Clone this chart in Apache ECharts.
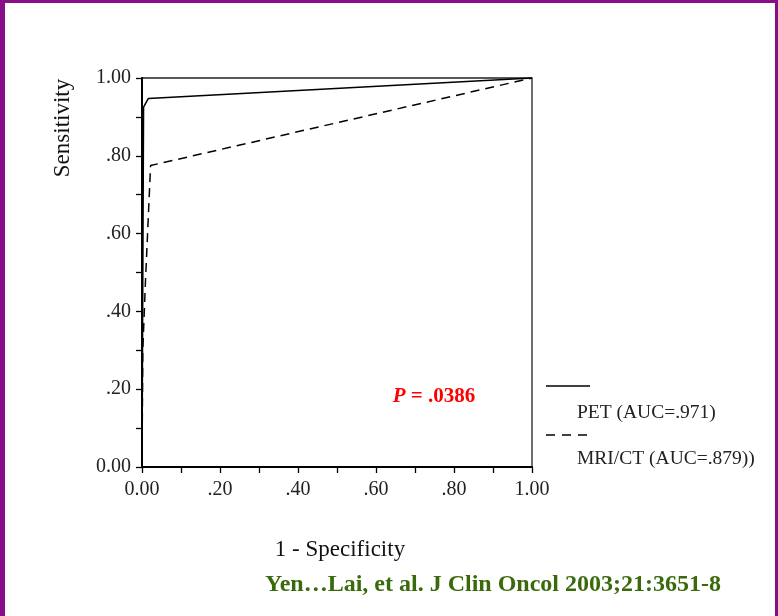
<!DOCTYPE html>
<html>
<head>
<meta charset="utf-8">
<script src="https://cdn.jsdelivr.net/npm/echarts@6/dist/echarts.min.js"></script>
<style>
  html, body { margin: 0; padding: 0; background: #fff; }
  #wrap { position: relative; width: 778px; height: 616px; }
  #chart { position: absolute; left: 0; top: 0; width: 778px; height: 616px; }
  #frame { position: absolute; left: 0; top: 0; width: 778px; height: 616px; box-sizing: border-box;
           border-style: solid; border-color: #880e88; border-width: 3px 3px 0 5px; pointer-events: none; }
</style>
</head>
<body>
<div id="wrap">
  <div id="chart"></div>
  <div id="frame"></div>
</div>
<script>
// ROC curves, x = 1 - specificity, y = sensitivity
var petX = [0, 0.004, 0.016, 1];
var petY = [0, 0.925, 0.947, 1];
var mriX = [0, 0.002, 0.009, 0.022, 1];
var mriY = [0, 0.30, 0.48, 0.775, 1];

var xTicks = ['0.00', '.20', '.40', '.60', '.80', '1.00'];
var yTicks = ['0.00', '.20', '.40', '.60', '.80', '1.00'];

var seriesNames = ['PET (AUC=.971)', 'MRI/CT (AUC=.879))'];
var pValue = '.0386';
var citation = 'Yen\u2026Lai, et al. J Clin Oncol 2003;21:3651-8';

function pairs(xs, ys) {
  return xs.map(function (x, i) { return [x, ys[i]]; });
}
function tickLabel(list) {
  return function (v) { return list[Math.round(v * 5)]; };
}

var serif = '"Liberation Serif", "Times New Roman", serif';

var chartDom = document.getElementById('chart');
var myChart = echarts.init(chartDom);
var option;

option = {
  backgroundColor: '#fff',
  animation: false,
  grid: {
    left: 142, right: 246, top: 78, bottom: 149,
    show: true, borderColor: '#222', borderWidth: 1.3
  },
  xAxis: {
    type: 'value', min: 0, max: 1, interval: 0.2,
    axisLine: { show: true, onZero: false, lineStyle: { color: '#000', width: 2 } },
    axisTick: { show: true, length: 6, lineStyle: { color: '#000', width: 1.3 } },
    minorTick: { show: true, splitNumber: 2, length: 6, lineStyle: { color: '#000', width: 1.3 } },
    splitLine: { show: false },
    axisLabel: { formatter: tickLabel(xTicks), margin: 13, color: '#222', fontFamily: serif, fontSize: 20 }
  },
  yAxis: {
    type: 'value', min: 0, max: 1, interval: 0.2,
    axisLine: { show: true, onZero: false, lineStyle: { color: '#000', width: 2 } },
    axisTick: { show: true, length: 6, lineStyle: { color: '#000', width: 1.3 } },
    minorTick: { show: true, splitNumber: 2, length: 6, lineStyle: { color: '#000', width: 1.3 } },
    splitLine: { show: false },
    axisLabel: { formatter: tickLabel(yTicks), margin: 11, color: '#222', fontFamily: serif, fontSize: 20 }
  },
  series: [
    {
      name: seriesNames[0], type: 'line', showSymbol: false, silent: true,
      data: pairs(petX, petY),
      lineStyle: { color: '#000', width: 1.5, type: 'solid' }
    },
    {
      name: seriesNames[1], type: 'line', showSymbol: false, silent: true,
      data: pairs(mriX, mriY),
      lineStyle: { color: '#000', width: 1.5, type: [9, 6] }
    }
  ],
  graphic: [
    // axis titles
    { type: 'text', x: 63, y: 128, rotation: Math.PI / 2,
      style: { text: 'Sensitivity', fontFamily: serif, fontSize: 23, fill: '#111', align: 'center', verticalAlign: 'middle' } },
    { type: 'text', x: 340, y: 550,
      style: { text: '1 - Specificity', fontFamily: serif, fontSize: 23, fill: '#111', align: 'center', verticalAlign: 'middle' } },
    // legend
    { type: 'line', shape: { x1: 546, y1: 386, x2: 590, y2: 386 }, style: { stroke: '#000', lineWidth: 1.3 } },
    { type: 'text', x: 577, y: 413,
      style: { text: seriesNames[0], fontFamily: serif, fontSize: 19.5, fill: '#222', verticalAlign: 'middle' } },
    { type: 'line', shape: { x1: 546, y1: 435, x2: 590, y2: 435 }, style: { stroke: '#000', lineWidth: 1.3, lineDash: [9, 7] } },
    { type: 'text', x: 577, y: 459,
      style: { text: seriesNames[1], fontFamily: serif, fontSize: 19.5, fill: '#222', verticalAlign: 'middle' } },
    // p value
    { type: 'text', x: 434, y: 397,
      style: {
        text: '{i|P}{b| = ' + pValue + '}',
        align: 'center', verticalAlign: 'middle',
        rich: {
          i: { fontFamily: serif, fontSize: 21, fontWeight: 'bold', fontStyle: 'italic', fill: '#f00' },
          b: { fontFamily: serif, fontSize: 21, fontWeight: 'bold', fill: '#f00' }
        }
      } },
    // citation
    { type: 'text', x: 493, y: 585,
      style: { text: citation, fontFamily: serif, fontSize: 24, fontWeight: 'bold', fill: '#3a6a0c', align: 'center', verticalAlign: 'middle' } }
  ]
};
option && myChart.setOption(option);
</script>
</body>
</html>
